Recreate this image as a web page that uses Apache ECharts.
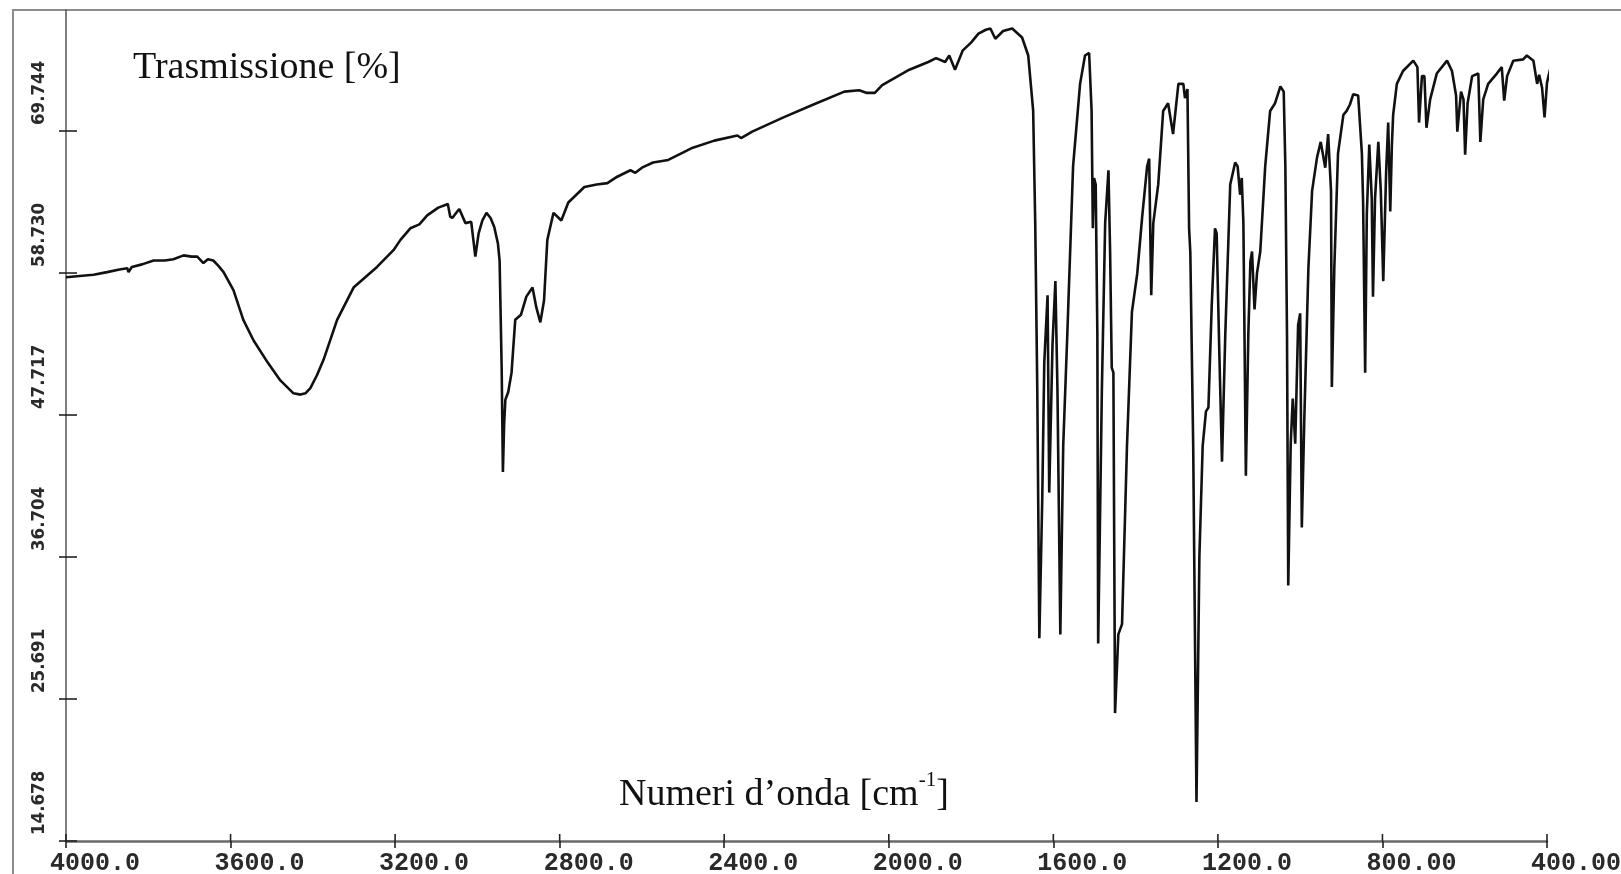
<!DOCTYPE html>
<html>
<head>
<meta charset="utf-8">
<script src="https://cdn.jsdelivr.net/npm/echarts@6/dist/echarts.min.js"></script>
<style>
  html, body { margin: 0; padding: 0; background: #ffffff; }
  #chart { width: 1621px; height: 874px; }
</style>
</head>
<body>
<div id="chart"></div>
<script>
// Wavenumbers (cm^-1) and transmittance (%)
const wavenumbers = [
  4000, 3967, 3933, 3900, 3870, 3851, 3848, 3840, 3815, 3787, 3760, 3739, 3714, 3695, 3681, 3666, 3655, 3642, 3630, 3617,
  3593, 3569, 3544, 3510, 3479, 3447, 3430, 3418, 3406, 3390, 3374, 3341, 3301, 3244, 3204, 3187, 3163, 3141, 3122, 3095,
  3078, 3072, 3066, 3061, 3049, 3044, 3029, 3015, 3005, 2997, 2988, 2978, 2968, 2959, 2950, 2946, 2941, 2938, 2935, 2932,
  2925, 2917, 2908, 2894, 2881, 2866, 2857, 2847, 2838, 2830, 2815, 2796, 2779, 2740, 2710, 2684, 2660, 2628, 2616, 2600,
  2573, 2536, 2480, 2424, 2368, 2359, 2332, 2256, 2183, 2108, 2072, 2053, 2034, 2016, 1950, 1904, 1885, 1863, 1853, 1839,
  1820, 1800, 1782, 1764, 1753, 1741, 1722, 1700, 1676, 1661, 1649, 1644, 1639, 1634, 1627, 1622, 1614, 1610, 1602, 1595,
  1590, 1583, 1576, 1566, 1552, 1535, 1523, 1513, 1507, 1504, 1501, 1497, 1493, 1491, 1482, 1474, 1466, 1462, 1458, 1454,
  1450, 1442, 1433, 1421, 1409, 1396, 1384, 1372, 1367, 1362, 1357, 1345, 1333, 1321, 1309, 1296, 1284, 1280, 1274, 1270,
  1267, 1260, 1252, 1245, 1237, 1229, 1223, 1215, 1207, 1203, 1197, 1190, 1182, 1170, 1158, 1152, 1146, 1142, 1138, 1132,
  1126, 1121, 1117, 1111, 1105, 1097, 1085, 1073, 1061, 1048, 1040, 1036, 1032, 1029, 1023, 1018, 1012, 1005, 1000, 996,
  990, 980, 971, 959, 950, 939, 932, 925, 923, 917, 908, 895, 887, 879, 871, 859, 850, 847, 842, 838,
  832, 826, 823, 818, 810, 804, 798, 791, 786, 781, 777, 774, 765, 750, 725, 715, 711, 704, 698, 693,
  684, 668, 643, 631, 621, 618, 609, 603, 599, 593, 582, 567, 562, 555, 543, 522, 510, 504, 497, 482,
  458, 449, 433, 424, 419, 412, 406, 400, 392, 386
];
const transmittance = [
  58.4, 58.5, 58.6, 58.8, 59.0, 59.1, 58.8, 59.2, 59.4, 59.7, 59.7, 59.8, 60.1, 60.0, 60.0, 59.5, 59.8, 59.7, 59.3, 58.8,
  57.4, 55.1, 53.5, 51.8, 50.4, 49.4, 49.3, 49.4, 49.8, 50.8, 52.0, 55.1, 57.6, 59.2, 60.5, 61.3, 62.2, 62.5, 63.2, 63.8,
  64.0, 64.1, 63.1, 63.0, 63.5, 63.7, 62.6, 62.7, 60.0, 61.8, 62.8, 63.4, 63.0, 62.3, 61.0, 59.7, 51.4, 43.3, 47.0, 48.9,
  49.5, 51.0, 55.1, 55.5, 56.9, 57.6, 56.1, 54.9, 56.6, 61.3, 63.4, 62.8, 64.2, 65.4, 65.6, 65.7, 66.2, 66.7, 66.5, 66.9,
  67.3, 67.5, 68.4, 69.0, 69.4, 69.2, 69.7, 70.8, 71.8, 72.8, 72.9, 72.7, 72.7, 73.3, 74.5, 75.1, 75.4, 75.1, 75.6, 74.5,
  76.0, 76.6, 77.3, 77.6, 77.7, 76.9, 77.5, 77.7, 77.0, 75.6, 71.3, 62.6, 49.7, 30.4, 41.1, 51.8, 57.0, 41.7, 53.2, 58.1,
  49.7, 30.7, 45.3, 54.0, 67.0, 73.4, 75.6, 75.8, 71.3, 62.2, 66.1, 65.6, 54.0, 30.0, 49.7, 62.6, 66.7, 60.4, 51.4, 51.0,
  24.6, 30.7, 31.5, 45.3, 55.7, 58.7, 63.1, 67.0, 67.6, 57.0, 62.6, 65.6, 71.3, 71.9, 69.5, 73.4, 73.4, 72.3, 73.0, 62.2,
  60.3, 45.3, 17.7, 36.7, 45.3, 48.0, 48.3, 56.2, 62.2, 61.8, 53.2, 44.1, 54.0, 65.6, 67.3, 67.0, 64.8, 66.1, 62.6, 43.0,
  54.0, 59.6, 60.4, 55.9, 58.7, 60.4, 67.0, 71.3, 71.9, 73.2, 72.8, 67.0, 54.0, 34.5, 45.5, 49.0, 45.5, 54.7, 55.6, 39.0,
  47.3, 59.1, 65.1, 67.7, 68.9, 66.9, 69.5, 65.1, 49.9, 59.1, 68.0, 71.0, 71.3, 71.8, 72.6, 72.5, 68.0, 64.2, 51.0, 63.3,
  68.7, 64.5, 56.9, 64.5, 68.9, 65.1, 58.1, 66.6, 70.4, 63.5, 68.7, 71.0, 73.4, 74.4, 75.2, 74.7, 70.4, 74.0, 74.0, 70.0,
  72.2, 74.2, 75.2, 74.4, 72.5, 69.7, 72.8, 72.2, 67.9, 71.9, 74.0, 74.2, 68.9, 72.2, 73.4, 74.2, 74.7, 72.1, 74.0, 75.2,
  75.3, 75.6, 75.2, 73.4, 74.1, 73.1, 70.8, 73.5, 74.6, 73.7
];

// Axis ticks and labels
const xTickValues = [4000, 3600, 3200, 2800, 2400, 2000, 1600, 1200, 800, 400];
const xTickLabels = ['4000.0', '3600.0', '3200.0', '2800.0', '2400.0', '2000.0', '1600.0', '1200.0', '800.00', '400.00'];
const yTickValues = [14.678, 25.691, 36.704, 47.717, 58.730, 69.744];
const yTickLabels = ['14.678', '25.691', '36.704', '47.717', '58.730', '69.744'];
const xMin = 400, xMax = 4000;
const yMin = 14.678, yMax = 79.13;

const yAxisTitle = 'Trasmissione [%]';
const xAxisTitleMain = 'Numeri d’onda [cm';
const xAxisTitleSup = '-1';

function labelFor(values, labels, v) {
  let best = 0;
  for (let i = 1; i < values.length; i++) {
    if (Math.abs(values[i] - v) < Math.abs(values[best] - v)) best = i;
  }
  return labels[best];
}

const seriesData = wavenumbers.map((w, i) => [w, transmittance[i]]);
const xInnerTicks = xTickValues.map(v => [v, yMin]);
const yInnerTicks = yTickValues.map(v => [xMax, v]);

const monoFont = '"Liberation Mono", "DejaVu Sans Mono", monospace';
const narrowFont = '"Liberation Sans Narrow", "DejaVu Sans Condensed", "Liberation Sans", sans-serif';
const serifFont = '"Liberation Serif", "DejaVu Serif", serif';

const chart = echarts.init(document.getElementById('chart'), null, { renderer: 'canvas' });

chart.setOption({
  backgroundColor: '#ffffff',
  animation: false,
  grid: { left: 66, right: 74, top: 10, bottom: 33, containLabel: false, outerBoundsMode: 'none' },
  xAxis: {
    type: 'value', min: xMin, max: xMax, interval: 400, inverse: true, position: 'bottom',
    axisLine: { show: true, onZero: false, lineStyle: { color: '#6a6a6a', width: 2.5 } },
    axisTick: { show: true, length: 7, lineStyle: { color: '#222', width: 1.6 } },
    axisLabel: {
      show: true, margin: 10, fontFamily: monoFont, fontWeight: 'bold', fontSize: 25, color: '#2a2a2a',
      padding: [0, 0, 0, 58],
      formatter: v => labelFor(xTickValues, xTickLabels, v)
    },
    splitLine: { show: false }
  },
  yAxis: {
    type: 'value', min: yMin, max: yMax, position: 'left',
    axisLine: { show: true, onZero: false, lineStyle: { color: '#555', width: 1.5 } },
    axisTick: { show: true, length: 7, customValues: yTickValues, lineStyle: { color: '#222', width: 1.6 } },
    axisLabel: {
      show: true, rotate: 90, margin: 17, customValues: yTickValues, align: 'left',
      fontFamily: narrowFont, fontWeight: 'bold', fontSize: 18.5, color: '#2a2a2a',
      padding: [0, 0, 0, 6],
      formatter: v => labelFor(yTickValues, yTickLabels, v)
    },
    splitLine: { show: false }
  },
  series: [
    {
      name: 'spectrum',
      type: 'line',
      data: seriesData,
      showSymbol: false,
      clip: false,
      lineStyle: { color: '#111', width: 2.6 },
      silent: true,
      z: 3
    },
    {
      name: 'xInnerTicks',
      type: 'custom',
      data: xInnerTicks,
      silent: true,
      clip: false,
      renderItem: (params, api) => {
        const p = api.coord([api.value(0), api.value(1)]);
        return { type: 'line', shape: { x1: p[0], y1: p[1], x2: p[0], y2: p[1] - 7 }, style: { stroke: '#222', lineWidth: 1.6 } };
      }
    },
    {
      name: 'yInnerTicks',
      type: 'custom',
      data: yInnerTicks,
      silent: true,
      clip: false,
      renderItem: (params, api) => {
        const p = api.coord([api.value(0), api.value(1)]);
        return { type: 'line', shape: { x1: p[0], y1: p[1], x2: p[0] + 11, y2: p[1] }, style: { stroke: '#222', lineWidth: 1.6 } };
      }
    }
  ],
  graphic: [
    {
      type: 'polyline', silent: true,
      shape: { points: [[13, 874], [13, 10], [1621, 10]] },
      style: { stroke: '#8c8c8c', lineWidth: 2, fill: null }
    },
    {
      type: 'text', left: 133, top: 49, silent: true,
      style: { text: yAxisTitle, font: '38px ' + serifFont, fill: '#111' }
    },
    {
      type: 'text', left: 619, top: 770, silent: true,
      style: {
        text: '{m|' + xAxisTitleMain + '}{s|' + xAxisTitleSup + '}{m|]}',
        rich: {
          m: { fontSize: 38, fontFamily: serifFont, fill: '#111', color: '#111', verticalAlign: 'bottom', lineHeight: 44 },
          s: { fontSize: 21, fontFamily: serifFont, fill: '#111', color: '#111', verticalAlign: 'top' }
        }
      }
    }
  ]
});
</script>
</body>
</html>
